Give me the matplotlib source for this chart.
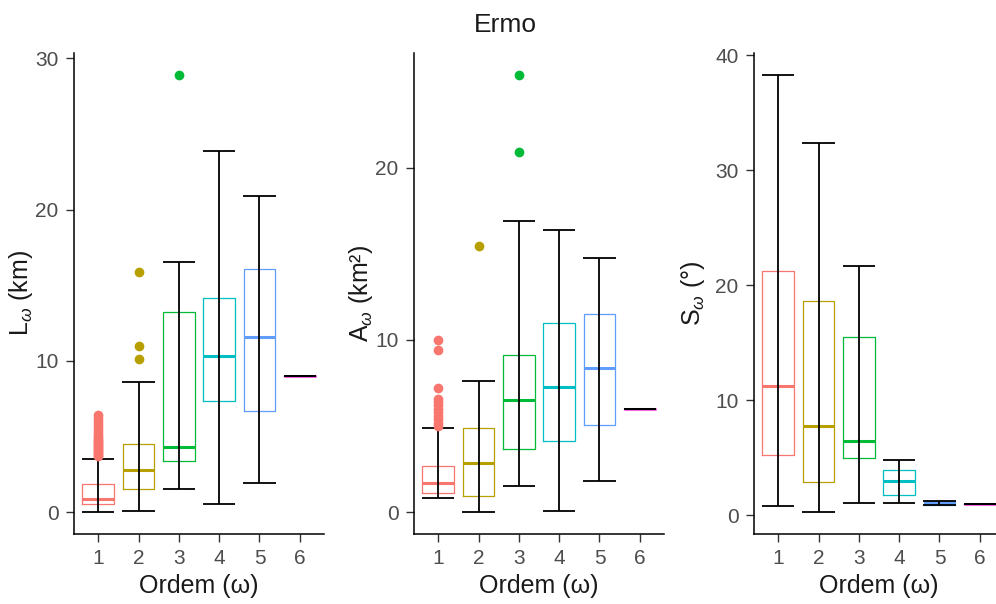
import matplotlib
matplotlib.use('Agg')
import matplotlib.pyplot as plt

plt.rcParams['font.family'] = ['Liberation Sans', 'DejaVu Sans']
plt.rcParams['mathtext.fontset'] = 'custom'
plt.rcParams['mathtext.rm'] = 'Liberation Sans'
plt.rcParams['mathtext.it'] = 'Liberation Sans:italic'

orders = [1, 2, 3, 4, 5, 6]
order_labels = ['1', '2', '3', '4', '5', '6']
colors = ['#F8766D', '#B79F00', '#00BA38', '#00BFC4', '#619CFF', '#F564E3']

# Panel 1: L (km)
L_low = [0.0, 0.07, 1.53, 0.53, 1.93, 8.97]
L_q1 = [0.53, 1.53, 3.39, 7.37, 6.70, 8.97]
L_med = [0.88, 2.79, 4.32, 10.30, 11.55, 8.97]
L_q3 = [1.86, 4.52, 13.20, 14.15, 16.10, 8.97]
L_high = [3.52, 8.57, 16.50, 23.90, 20.90, 8.97]
L_out = [[3.7, 3.8, 3.9, 4.0, 4.1, 4.2, 4.3, 4.4, 4.5, 4.6, 4.7, 4.8, 4.9, 5.0,
          5.2, 5.4, 5.6, 5.8, 6.0, 6.2, 6.4],
         [10.1, 11.0, 15.9], [28.9], [], [], []]

# Panel 2: A (km²)
A_low = [0.82, 0.0, 1.52, 0.08, 1.81, 6.0]
A_q1 = [1.11, 0.95, 3.67, 4.14, 5.07, 6.0]
A_med = [1.69, 2.86, 6.53, 7.29, 8.40, 6.0]
A_q3 = [2.68, 4.90, 9.10, 10.96, 11.50, 6.0]
A_high = [4.90, 7.64, 16.90, 16.40, 14.75, 6.0]
A_out = [[5.0, 5.2, 5.4, 5.6, 5.8, 6.0, 6.2, 6.4, 6.6, 7.2, 9.4, 10.0],
         [15.45], [20.9, 25.4], [], [], []]

# Panel 3: S (°)
S_low = [0.79, 0.26, 1.05, 1.05, 0.90, 1.0]
S_q1 = [5.24, 2.88, 4.98, 1.75, 0.90, 1.0]
S_med = [11.27, 7.77, 6.46, 2.97, 1.05, 1.0]
S_q3 = [21.20, 18.60, 15.46, 3.93, 1.25, 1.0]
S_high = [38.30, 32.40, 21.66, 4.80, 1.25, 1.0]
S_out = [[], [], [], [], [], []]

panels = [
    dict(low=L_low, q1=L_q1, med=L_med, q3=L_q3, high=L_high, out=L_out,
         ylabel=r'L$_{\omega}$ (km)', yticks=[0, 10, 20, 30], labx=-0.156),
    dict(low=A_low, q1=A_q1, med=A_med, q3=A_q3, high=A_high, out=A_out,
         ylabel=r'A$_{\omega}$ (km²)', yticks=[0, 10, 20], labx=-0.156),
    dict(low=S_low, q1=S_q1, med=S_med, q3=S_q3, high=S_high, out=S_out,
         ylabel=r'S$_{\omega}$ (°)', yticks=[0, 10, 20, 30, 40], labx=-0.188),
]

W, H = 996, 604
fig = plt.figure(figsize=(W / 100, H / 100), dpi=100)

ax_lefts = [74, 414, 754]
ax_width = 250
ax_bottom = 534
ax_top = 53

for p, left in zip(panels, ax_lefts):
    ax = fig.add_axes([left / W, 1 - ax_bottom / H, ax_width / W, (ax_bottom - ax_top) / H])
    stats = []
    for i in range(len(orders)):
        stats.append(dict(med=p['med'][i], q1=p['q1'][i], q3=p['q3'][i],
                          whislo=p['q1'][i], whishi=p['q3'][i], fliers=[]))
    bp = ax.bxp(stats, positions=orders, widths=0.78, showcaps=False,
                showfliers=False, patch_artist=False,
                boxprops=dict(linewidth=0.9), medianprops=dict(linewidth=2.2),
                whiskerprops=dict(linewidth=0))
    for i, c in enumerate(colors):
        bp['boxes'][i].set_color(c)
        bp['boxes'][i].set_zorder(2)
        bp['medians'][i].set_color(c)
        bp['medians'][i].set_zorder(2)
    # black errorbar whiskers
    ax.vlines(orders, p['low'], p['high'], color='black', linewidth=1.3, zorder=3)
    ax.hlines(p['low'], [o - 0.4 for o in orders], [o + 0.4 for o in orders],
              color='black', linewidth=1.3, zorder=3)
    ax.hlines(p['high'], [o - 0.4 for o in orders], [o + 0.4 for o in orders],
              color='black', linewidth=1.3, zorder=3)
    for o, vals, c in zip(orders, p['out'], colors):
        if vals:
            ax.plot([o] * len(vals), vals, 'o', color=c, markersize=7,
                    markeredgewidth=0, zorder=4)
    allv = p['low'] + p['high'] + [v for vs in p['out'] for v in vs]
    lo, hi = min(allv), max(allv)
    pad = 0.05 * (hi - lo)
    ax.set_ylim(lo - pad, hi + pad)
    ax.set_xlim(0.4, 6.6)
    ax.set_xticks(orders)
    ax.set_xticklabels(order_labels)
    ax.set_yticks(p['yticks'])
    ax.set_yticklabels([str(t) for t in p['yticks']])
    ax.spines['top'].set_visible(False)
    ax.spines['right'].set_visible(False)
    for s in ['left', 'bottom']:
        ax.spines[s].set_linewidth(1.1)
        ax.spines[s].set_color('black')
    ax.tick_params(axis='both', colors='#333333', labelcolor='#4D4D4D',
                   labelsize=15, length=6, width=1.0, pad=5)
    ax.set_xlabel('Ordem (ω)', fontsize=18, color='#1a1a1a', labelpad=4)
    ax.set_ylabel(p['ylabel'], fontsize=18, color='#1a1a1a')
    ax.yaxis.set_label_coords(p['labx'], 0.5)

fig.text(505 / W, 1 - 25 / H, 'Ermo', ha='center', va='center', fontsize=19, color='#1a1a1a')

fig.savefig('out.png', dpi=100)
